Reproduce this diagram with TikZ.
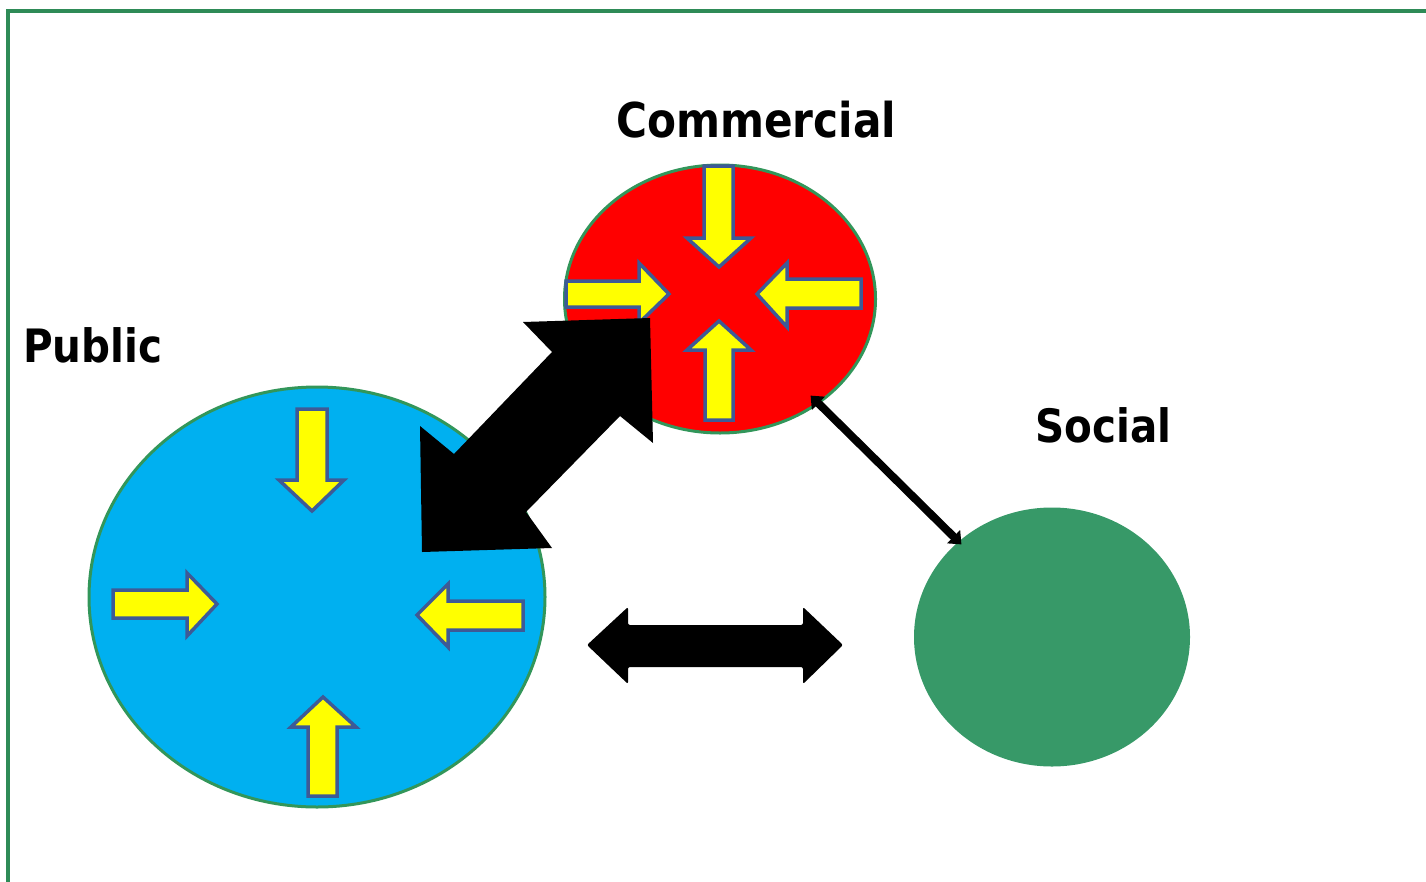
\documentclass[tikz,border=0pt]{standalone}
\usepackage{fontspec}
\newfontfamily\labfont{DejaVu Sans}[FakeStretch=0.88]
\usetikzlibrary{shapes.geometric,arrows.meta}
\definecolor{framegreen}{RGB}{46,139,87}
\definecolor{pubblue}{RGB}{0,176,240}
\definecolor{rimgreen}{RGB}{50,150,90}
\definecolor{comred}{RGB}{255,0,0}
\definecolor{socgreen}{RGB}{55,153,104}
\definecolor{arryellow}{RGB}{255,255,0}
\definecolor{arrline}{RGB}{62,90,150}
\tikzset{
  sector/.style={ellipse, inner sep=0pt, draw=rimgreen, line width=3pt},
  yarrow/.style={fill=arryellow, draw=arrline, line width=3.5pt, line join=miter},
  blackblock/.style={fill=black, draw=none},
  lab/.style={anchor=base west, inner sep=0pt, text=black},
  thinlink/.style={draw=black, line width=8pt, {Triangle[width=18pt,length=11pt]}-{Triangle[width=18pt,length=11pt]}, shorten <=-2pt, shorten >=-2pt}
}
\begin{document}
\begin{tikzpicture}[x=1pt,y=-1pt]
\useasboundingbox (0,0) rectangle (1426,881);
% frame
\draw[framegreen, line width=4pt] (8,890) -- (8,11) -- (1430,11);

% circles
\node[sector, fill=pubblue, minimum width=456pt, minimum height=420pt] (pub) at (317,597) {};
\node[sector, fill=comred, minimum width=311pt, minimum height=268pt] (com) at (720,299) {};
\node[ellipse, inner sep=0pt, fill=socgreen, minimum width=276pt, minimum height=259pt] (soc) at (1052,637) {};

% yellow arrows in Public
\draw[yarrow] (297,409) -- (327,409) -- (327,480) -- (344,480) -- (312,511) -- (279,480) -- (297,480) -- cycle;
\draw[yarrow] (113,590) -- (187,590) -- (187,573) -- (217,604) -- (187,636) -- (187,618) -- (113,618) -- cycle;
\draw[yarrow] (523,601) -- (448,601) -- (448,584) -- (417,615) -- (448,647) -- (448,630) -- (523,630) -- cycle;
\draw[yarrow] (308,796) -- (337,796) -- (337,727) -- (356,727) -- (323,697) -- (291,727) -- (308,727) -- cycle;

% yellow arrows in Commercial
\draw[yarrow] (704,166) -- (733,166) -- (733,238) -- (751,238) -- (719,267) -- (687,238) -- (704,238) -- cycle;
\draw[yarrow] (566,281) -- (639,281) -- (639,263) -- (669,294) -- (639,323) -- (639,307) -- (566,307) -- cycle;
\draw[yarrow] (861,279) -- (787,279) -- (787,263) -- (757,294) -- (787,327) -- (787,308) -- (861,308) -- cycle;
\draw[yarrow] (705,420) -- (733,420) -- (733,350) -- (751,350) -- (719,321) -- (687,350) -- (705,350) -- cycle;

% big diagonal double arrow (Public <-> Commercial)
\fill[blackblock] (650,318) -- (653,443) -- (620,416) -- (526,512) -- (552,548) -- (422,552) -- (420,426) -- (454,454) -- (552,352) -- (523,322) -- cycle;

% horizontal double arrow (Public <-> Social)
\fill[blackblock, rounded corners=2pt] (587,645) -- (628,607) -- (628,625) -- (803,625) -- (803,607) -- (843,645) -- (803,684) -- (803,667) -- (628,667) -- (628,684) -- cycle;

% thin arrow (Commercial <-> Social)
\coordinate (t1) at (812,397);
\coordinate (t2) at (960,543);
\draw[thinlink] (t1) -- (t2);

% labels
\node[lab, font=\labfont\bfseries\fontsize{48}{56}\selectfont] (lcom) at (616,137) {Commercial};
\node[lab, font=\labfont\bfseries\fontsize{46}{54}\selectfont] (lpub) at (23,362) {Public};
\node[lab, font=\labfont\bfseries\fontsize{46}{54}\selectfont] (lsoc) at (1035,442) {Social};
\end{tikzpicture}
\end{document}
